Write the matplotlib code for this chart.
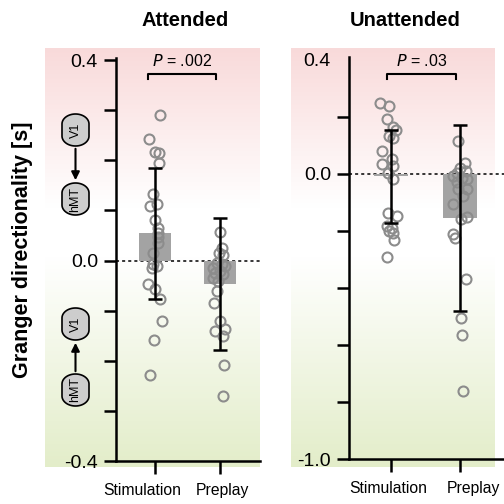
import numpy as np
import matplotlib
matplotlib.use('Agg')
import matplotlib.pyplot as plt
from matplotlib.patches import Polygon
from matplotlib.colors import LinearSegmentedColormap
from matplotlib.transforms import ScaledTranslation

plt.rcParams['font.family'] = ['Liberation Sans', 'DejaVu Sans']

categories = ['Stimulation', 'Preplay']

# attended panel
att_stim = [0.29, 0.242, 0.216, 0.214, 0.194, 0.132, 0.112, 0.108, 0.08, 0.064, 0.054, 0.046,
            0.034, 0.014, -0.006, -0.014, -0.01, -0.046, -0.056, -0.076, -0.12, -0.158, -0.228]
att_stim_jit = [5, -6, 0, 4, 4, -2, 2, -5, 0, 3, 3, 3, 3, -2, -2, -3, 2, -7, 0, 5, 7, -1, -5]
att_pre = [0.056, 0.025, 0.014, 0.01, -0.004, -0.006, -0.014, -0.01, -0.024, -0.02, -0.026,
           -0.034, -0.04, -0.06, -0.084, -0.12, -0.14, -0.136, -0.15, -0.208, -0.27]
att_pre_jit = [0, 2, -1, 3, -3, 2, -7, 5, -5, 0, 3, -7, -2, -3, -6, 0, -5, 5, 3, 4, 3]
att_mean = [0.054, -0.047]
att_err = [0.13, 0.131]

# unattended panel
una_stim = [0.247, 0.237, 0.194, 0.163, 0.155, 0.134, 0.127, 0.081, 0.053, 0.035, 0.028, 0.004,
            -0.018, -0.138, -0.148, -0.184, -0.19, -0.2, -0.208, -0.233, -0.29]
una_stim_jit = [-11, -2, -4, 2, 5, -2, 2, -9, 1, -9, 2, -3, 2, -3, 6, -4, 1, -2, 2, 3, -4]
una_pre = [0.117, 0.039, 0.021, 0.004, 0.011, -0.007, -0.014, -0.028, -0.018, -0.053, -0.053,
           -0.078, -0.106, -0.159, -0.152, -0.212, -0.226, -0.37, -0.505, -0.565, -0.763]
una_pre_jit = [-2, 5, 0, -3, 6, -7, 2, -3, 7, -2, 7, 3, -7, 1, 7, -7, -5, 6, 1, 2, 3]
una_mean = [-0.008, -0.155]
una_err = [0.163, 0.327]

W = H = 504.0
fig = plt.figure(figsize=(5.04, 5.04), dpi=100)


def fbox(x0, y0, x1, y1):
    # pixel box (top-left origin) -> figure fraction
    return [x0 / W, 1 - y1 / H, (x1 - x0) / W, (y1 - y0) / H]


# background gradients
cmap = LinearSegmentedColormap.from_list('bg', [(0.0, (0.976, 0.855, 0.855)),
                                                (0.38, (1.0, 1.0, 1.0)),
                                                (0.5, (1.0, 1.0, 1.0)),
                                                (1.0, (0.89, 0.93, 0.79))])
grad = np.linspace(0, 1, 256).reshape(-1, 1)
for box in [(45, 48, 260, 467), (291, 48, 495, 467)]:
    bg = fig.add_axes(fbox(*box), zorder=0)
    bg.imshow(grad, aspect='auto', cmap=cmap, vmin=0, vmax=1)
    bg.axis('off')


def panel(box, xlim, ylim, d_stim, j_stim, d_pre, j_pre, means, errs, pxu, yticks, ylabels,
          lab_shift):
    ax = fig.add_axes(fbox(*box), zorder=1)
    ax.patch.set_alpha(0)
    ax.set_xlim(*xlim)
    ax.set_ylim(*ylim)
    ax.bar([0, 1], means, width=0.5, color='#a3a3a3', zorder=1)
    for i, (d, j) in enumerate([(d_stim, j_stim), (d_pre, j_pre)]):
        ax.plot(i + np.array(j) / pxu, d, 'o', ms=7.2, mfc='none', mec='#8c8c8c', mew=1.5,
                zorder=2)
    ax.errorbar([0, 1], means, yerr=errs, fmt='none', ecolor='black', elinewidth=1.8,
                capsize=4.8, capthick=1.8, zorder=3)
    ax.plot([xlim[0], xlim[1]], [0, 0], color='black', lw=1.1, ls=(0, (2, 2)), zorder=0.5)
    for s in ['top', 'right']:
        ax.spines[s].set_visible(False)
    for s in ['left', 'bottom']:
        ax.spines[s].set_linewidth(1.8)
    ax.set_yticks(yticks)
    ax.set_yticklabels(ylabels, fontsize=14)
    ax.set_xticks([0, 1])
    ax.set_xticklabels(categories, fontsize=11.3)
    ax.tick_params(axis='y', length=9, width=1.8, pad=4)
    ax.tick_params(axis='x', length=9, width=1.8, pad=7)
    for lab, dx in zip(ax.get_xticklabels(), lab_shift):
        lab.set_transform(lab.get_transform() + ScaledTranslation(dx / 100.0, 0, fig.dpi_scale_trans))
    return ax


ax1 = panel((116, 58, 260, 461), (-0.6, 1.615), (-0.4, 0.404), att_stim, att_stim_jit,
            att_pre, att_pre_jit, att_mean, att_err, 65.0,
            np.round(np.arange(-0.4, 0.41, 0.1), 1),
            ['-0.4', '', '', '', '0.0', '', '', '', '0.4'], [-13, 2])
ax2 = panel((349, 57, 504, 459), (-0.609, 1.638), (-1.0, 0.41), una_stim, una_stim_jit,
            una_pre, una_pre_jit, una_mean, una_err, 69.0,
            np.round(np.arange(-1.0, 0.41, 0.2), 1),
            ['-1.0', '', '', '', '', '0.0', '', '0.4'], [-3, 13])
# no tick mark at 0.4 on the right panel
ax2.yaxis.get_major_ticks()[-1].tick1line.set_visible(False)

# overlay in pixel coords for titles, brackets and icons
ov = fig.add_axes([0, 0, 1, 1], zorder=2)
ov.set_xlim(0, W)
ov.set_ylim(H, 0)
ov.axis('off')
ov.patch.set_alpha(0)

ov.text(185, 20, 'Attended', ha='center', va='center', fontsize=14.5, fontweight='bold')
ov.text(405, 20, 'Unattended', ha='center', va='center', fontsize=14.5, fontweight='bold')
ov.text(23, 250, 'Granger directionality [s]', rotation=90, ha='center', va='center',
        fontsize=15.5, fontweight='bold')

for x0, x1, label in [(148, 216, '$\\it{P}$ = .002'), (387, 456, '$\\it{P}$ = .03')]:
    ov.plot([x0, x0, x1, x1], [79, 74, 74, 79], color='black', lw=1.5)
    ov.text((x0 + x1) / 2, 61, label, ha='center', va='center', fontsize=11.5)


def node(y, name, cx=75.5, rx=13.5, ry=10.0, half=6.0):
    # rounded capsule: two half ellipses joined by straight sides
    t1 = np.linspace(np.pi, 2 * np.pi, 40)
    t2 = np.linspace(0, np.pi, 40)
    top = np.column_stack([cx + rx * np.cos(t1), y - half + ry * np.sin(t1)])
    bot = np.column_stack([cx + rx * np.cos(t2), y + half + ry * np.sin(t2)])
    ov.add_patch(Polygon(np.vstack([top, bot]), closed=True, facecolor='#cdcdcd',
                         edgecolor='black', lw=1.2))
    ov.text(cx, y, name, rotation=90, ha='center', va='center', fontsize=9)


node(130, 'V1')
node(199, 'hMT')
ov.annotate('', xy=(75.5, 183), xytext=(75.5, 146),
            arrowprops=dict(arrowstyle='-|>', color='black', lw=1.5, mutation_scale=12))
node(324, 'V1')
node(390, 'hMT')
ov.annotate('', xy=(75.5, 340), xytext=(75.5, 374),
            arrowprops=dict(arrowstyle='-|>', color='black', lw=1.5, mutation_scale=12))

fig.savefig('out.png', dpi=100)
